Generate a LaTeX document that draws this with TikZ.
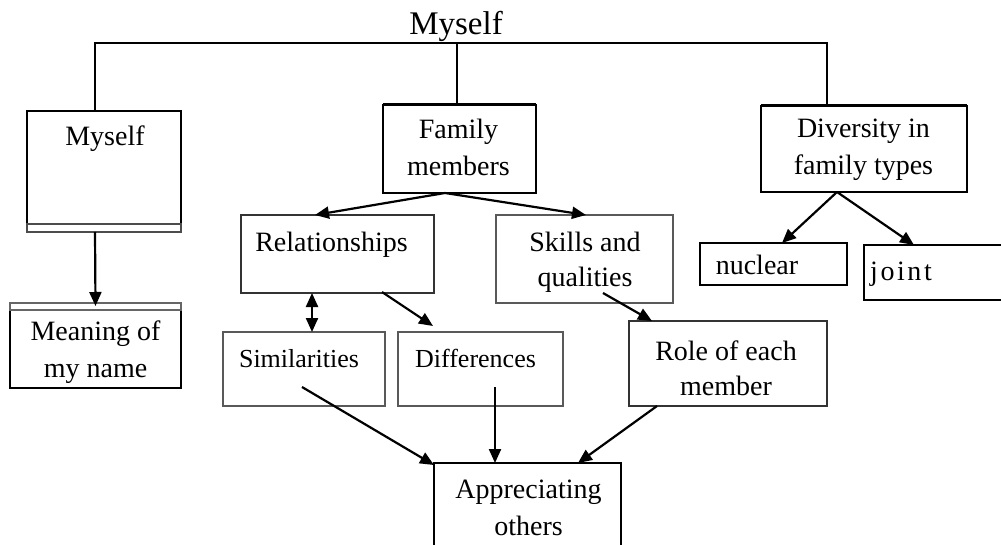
\documentclass[tikz,border=0pt]{standalone}
\usepackage{fontspec}
\setmainfont{Liberation Serif}
\usetikzlibrary{arrows.meta,calc}
\tikzset{
  box/.style={draw, line width=2.2pt, rectangle, inner sep=0pt, outer sep=0pt},
  thinbox/.style={draw=black!65, line width=1.5pt, rectangle, inner sep=0pt, outer sep=0pt},
  midbox/.style={draw=black!80, line width=1.9pt, rectangle, inner sep=0pt, outer sep=0pt},
  lbl/.style={anchor=base, inner sep=0pt, align=center, font=\fontsize{28}{37}\selectfont},
  slbl/.style={anchor=base, inner sep=0pt, align=center, font=\fontsize{26}{34}\selectfont},
  ttl/.style={anchor=base, inner sep=0pt, font=\fontsize{33}{40}\selectfont},
  conn/.style={line width=2pt},
  arr/.style={line width=2.2pt, -{Triangle[length=14pt,width=12pt]}},
  darr/.style={line width=2.2pt, {Triangle[length=14pt,width=12pt]}-{Triangle[length=14pt,width=12pt]}},
}
\begin{document}
\begin{tikzpicture}[x=1pt,y=-1pt]
\path[use as bounding box, clip] (0,0) rectangle (1001,545);
\fill[white] (0,0) rectangle (1001,545);

% title
\node[ttl] (title) at (456,35) {Myself};

% boxes
\node[box, minimum width=154pt, minimum height=113pt] (myselfbox) at (104,167.5) {};
\draw[draw=black!70, line width=1.6pt] (myselfbox.south west) rectangle ($(myselfbox.south east)+(0,8)$);
\node[box, minimum width=171pt, minimum height=78pt] (meaning) at (95.5,349) {};
\draw[draw=black!60, line width=1.3pt] (meaning.north west) rectangle ($(meaning.north east)+(0,-7)$);
\node[box, minimum width=153pt, minimum height=88pt] (family) at (459.5,149) {};
\draw[line width=3pt] (family.north west) -- (family.north east);
\node[box, minimum width=206pt, minimum height=86pt] (diversity) at (864,149) {};
\draw[line width=3pt] (diversity.north west) -- (diversity.north east);
\node[midbox, minimum width=193pt, minimum height=78pt] (relationships) at (337.5,254) {};
\node[thinbox, minimum width=177pt, minimum height=88pt] (skills) at (584.5,259) {};
\node[box, minimum width=147pt, minimum height=42pt] (nuclear) at (773.5,264) {};
\node[box, minimum width=147pt, minimum height=55pt] (joint) at (937.5,272.5) {};
\node[thinbox, minimum width=162pt, minimum height=74pt] (similarities) at (304,369) {};
\node[thinbox, minimum width=165pt, minimum height=74pt] (differences) at (480.5,369) {};
\node[midbox, minimum width=198pt, minimum height=85pt] (role) at (728,363.5) {};
\node[box, minimum width=187pt, minimum height=107pt] (appreciating) at (527.5,516.5) {};

% texts (multi-line nodes: base = last line)
\node[lbl] (tmyself) at (105,146) {Myself};
\node[lbl] (tmeaning) at (95.5,377) {Meaning of\\my name};
\node[lbl] (tfamily) at (458.5,176) {Family\\members};
\node[lbl] (tdiversity) at (863.5,175) {Diversity in\\family types};
\node[lbl] (trel) at (331.5,252) {Relationships};
\node[lbl] (tskills) at (585,287) {Skills and\\[-2pt]qualities};
\node[lbl] (tnuclear) at (757,275) {nuclear};
\node[lbl] (tjoint) at (901,280) {j\kern2.6pt o\kern2.6pt i\kern2.6pt n\kern2.6pt t};
\node[slbl] (tsim) at (299,367) {Similarities};
\node[slbl] (tdiff) at (475.5,367) {Differences};
\node[lbl] (trole) at (726,395) {Role of each\\[-2pt]member};
\node[lbl] (tapp) at (528.5,535) {Appreciating\\others};

% top bus
\coordinate (busL) at (95,43);
\coordinate (busM) at (457,43);
\coordinate (busR) at (827,43);
\draw[conn] ($(myselfbox.north west)+(68,0)$) -- (busL) -- (busR) -- ($(diversity.north west)+(66,0)$);
\draw[conn] (busM) -- ($(family.north west)+(74,0)$);

% connectors
\draw[arr] ($(myselfbox.south west)+(68,8)$) -- ($(meaning.north west)+(85.5,-4)$);
\draw[arr] ($(family.south west)+(62,0)$) -- ($(relationships.north west)+(74,0)$);
\draw[arr] ($(family.south west)+(62,0)$) -- ($(skills.north west)+(90,0)$);
\draw[arr] ($(diversity.south west)+(76,0)$) -- ($(nuclear.north west)+(82,0)$);
\draw[arr] ($(diversity.south west)+(76,0)$) -- ($(joint.north west)+(50,0)$);
\draw[darr] ($(relationships.south west)+(71,0)$) -- ($(similarities.north west)+(89,0)$);
\draw[arr] ($(relationships.south west)+(141,-1)$) -- ($(differences.north west)+(35,-6)$);
\draw[arr] ($(skills.south west)+(107,-10)$) -- ($(role.north west)+(23,0)$);
\draw[arr] ($(similarities.south west)+(79,-19)$) -- ($(appreciating.north west)+(0,2)$);
\draw[arr] ($(differences.south west)+(97,-19)$) -- ($(appreciating.north west)+(61,0)$);
\draw[arr] ($(role.south west)+(28,0)$) -- ($(appreciating.north west)+(144,0)$);
\end{tikzpicture}
\end{document}
